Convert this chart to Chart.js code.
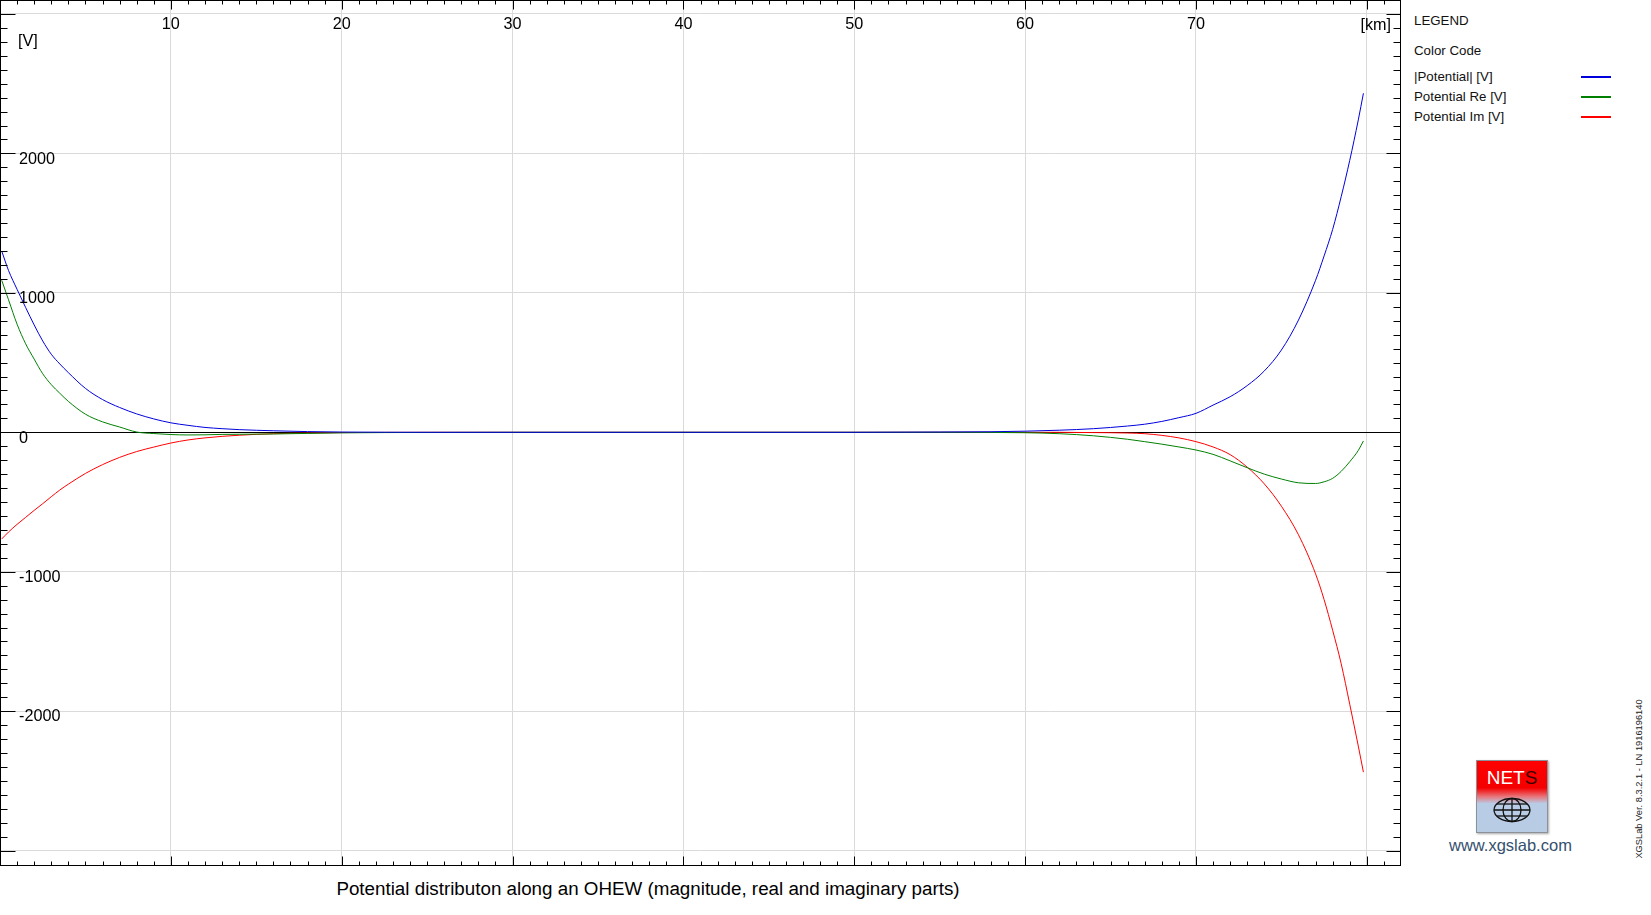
<!DOCTYPE html>
<html><head><meta charset="utf-8">
<script src="https://cdn.jsdelivr.net/npm/chart.js@4.4.1/dist/chart.umd.min.js"></script>
<style>
html,body{margin:0;padding:0;background:#fff;width:1651px;height:915px;overflow:hidden;font-family:"Liberation Sans",Arial,sans-serif;}
#wrap{position:absolute;left:0;top:0;width:1402px;height:867px;}
.t{position:absolute;white-space:nowrap;color:#000;}
#title{left:0;width:1296px;text-align:center;top:879px;font-size:18.8px;line-height:20px;}
.lg{left:1414px;font-size:13.3px;line-height:16px;color:#111;}
.sw{position:absolute;left:1581px;width:30px;height:2px;}
#logo{position:absolute;left:1476px;top:760px;width:70px;height:71px;border:1px solid #8c9098;box-shadow:1px 1px 2px rgba(0,0,0,0.35);
 background:linear-gradient(to bottom,#ff0000 0%,#f40000 38%,#e8757a 50%,#b9cce6 60%,#b8cce4 100%);}
#nets{position:absolute;left:0;top:7px;width:70px;text-align:center;color:#fff;font-size:19px;line-height:20px;}
#nets span{color:#3a0000;}
#globe{position:absolute;left:14px;top:36px;}
#url{left:1449px;top:835px;font-size:16.5px;line-height:20px;color:#34506e;}
#ver{left:1539px;top:773px;width:200px;height:12px;line-height:12px;text-align:center;font-size:9.3px;color:#222;transform:rotate(-90deg);transform-origin:center center;}
</style></head><body>
<div id="wrap"><canvas id="c"></canvas></div>
<div class="t" id="title">Potential distributon along an OHEW (magnitude, real and imaginary parts)</div>
<div class="t lg" style="top:13px">LEGEND</div>
<div class="t lg" style="top:43px">Color Code</div>
<div class="t lg" style="top:69px">|Potential| [V]</div>
<div class="t lg" style="top:89px">Potential Re [V]</div>
<div class="t lg" style="top:109px">Potential Im [V]</div>
<div class="sw" style="top:76px;background:#0000dd"></div>
<div class="sw" style="top:96px;background:#008000"></div>
<div class="sw" style="top:116px;background:#ff0000"></div>
<div id="logo"><div id="nets">NET<span>S</span></div>
<svg id="globe" width="42" height="26" viewBox="0 0 42 26"><g fill="none" stroke="#111" stroke-width="1.3">
<ellipse cx="21" cy="13" rx="18" ry="11.5"/><ellipse cx="21" cy="13" rx="9" ry="11.5"/>
<line x1="21" y1="1.5" x2="21" y2="24.5"/><line x1="3" y1="13" x2="39" y2="13"/>
<line x1="6" y1="7" x2="36" y2="7"/><line x1="6" y1="19" x2="36" y2="19"/></g></svg></div>
<div class="t" id="url">www.xgslab.com</div>
<div class="t" id="ver">XGSLab Ver. 8.3.2.1 - LN 1916196140</div>
<script>
const km = [0.1, 0.5, 1, 1.5, 2, 2.5, 3, 3.5, 4, 5, 6, 7, 8, 9, 10, 11, 12, 13, 14, 16, 18, 20, 25, 30, 40, 50, 55, 58, 60, 62, 64, 66, 67, 68, 69, 70, 71, 72, 73, 74, 75, 76, 77, 77.5, 78, 78.5, 79, 79.5, 79.8];
const potentialMag = [1300, 1160, 1025, 895, 770, 655, 560, 490, 428, 315, 235, 178, 132, 96, 68, 50, 35, 26, 19, 11, 5, 2, 0, 0, 0, 0, 2, 4, 8, 15, 26, 45, 58, 78, 105, 136, 195, 255, 335, 440, 590, 805, 1090, 1265, 1455, 1690, 1950, 2240, 2431];
const potentialRe = [1090, 950, 775, 635, 525, 420, 342, 280, 222, 130, 75, 38, 2, -9, -16, -19, -18, -15, -14, -12, -8, -4, -1, 0, 0, 0, 0, -1, -3, -10, -25, -50, -67, -85, -105, -127, -158, -205, -254, -300, -335, -362, -367, -355, -330, -280, -211, -130, -62];
const potentialIm = [-765, -715, -660, -610, -560, -512, -462, -414, -372, -295, -232, -180, -138, -106, -77, -55, -40, -29, -21, -10, -5, -2, 0, 0, 0, 0, 0, 0, 0, 0, -2, -5, -10, -22, -40, -67, -105, -160, -250, -370, -530, -735, -1015, -1200, -1420, -1660, -1950, -2250, -2437];
const seriesNames = ['|Potential| [V]', 'Potential Re [V]', 'Potential Im [V]'];
const xGridValues = [0, 10, 20, 30, 40, 50, 60, 70, 80];
const yGridValues = [-3000, -2000, -1000, 0, 1000, 2000, 3000];
const xTickLabels = [10, 20, 30, 40, 50, 60, 70];
const yTickLabels = [2000, 1000, 0, -1000, -2000];
const xUnit = '[km]';
const yUnit = '[V]';

const pts = arr => arr.map((v, i) => ({x: km[i], y: v}));
const FONT = '16.2px "Liberation Sans", Arial, sans-serif';

const framePlugin = {
  id: 'frame',
  afterDraw(chart) {
    const ctx = chart.ctx, xs = chart.scales.x, ys = chart.scales.y;
    const L = 0.5, T = 0.5, R = 1400.5, B = 865.5;
    ctx.save();
    ctx.strokeStyle = '#000'; ctx.lineWidth = 1;
    ctx.beginPath();
    for (let k = 1; k <= 82; k++) {
      const px = Math.round(xs.getPixelForValue(k)) + 0.5;
      if (px >= R) continue;
      const len = k % 10 === 0 ? 9 : 4;
      ctx.moveTo(px, T); ctx.lineTo(px, T + len);
      ctx.moveTo(px, B); ctx.lineTo(px, B - len);
    }
    for (let v = -3100; v <= 3100; v += 100) {
      const py = Math.round(ys.getPixelForValue(v)) + 0.5;
      if (py <= T || py >= B) continue;
      const major = v % 1000 === 0;
      ctx.moveTo(L, py); ctx.lineTo(L + (major ? 15 : 7), py);
      ctx.moveTo(R, py); ctx.lineTo(R - (major ? 14 : 7), py);
    }
    ctx.stroke();
    ctx.strokeRect(L, T, R - L, B - T);
    ctx.fillStyle = '#000';
    ctx.font = FONT;
    ctx.textBaseline = 'alphabetic';
    ctx.textAlign = 'center';
    xTickLabels.forEach(v => ctx.fillText(String(v), xs.getPixelForValue(v), 29.3));
    ctx.textAlign = 'left';
    yTickLabels.forEach(v => ctx.fillText(String(v), 19, ys.getPixelForValue(v) + 10.2));
    ctx.fillText(yUnit, 18, 46);
    ctx.textAlign = 'right';
    ctx.fillText(xUnit, 1391, 30);
    ctx.restore();
  }
};

new Chart(document.getElementById('c'), {
  type: 'line',
  data: {
    datasets: [
      {label: seriesNames[0], data: pts(potentialMag), borderColor: '#0000dd'},
      {label: seriesNames[1], data: pts(potentialRe), borderColor: '#008000'},
      {label: seriesNames[2], data: pts(potentialIm), borderColor: '#ff0000'}
    ].map(d => Object.assign(d, {borderWidth: 1, pointRadius: 0, fill: false, cubicInterpolationMode: 'monotone'}))
  },
  options: {
    responsive: true, maintainAspectRatio: false, animation: false,
    layout: {padding: {left: 0, top: 0, right: 1, bottom: 1}},
    plugins: {legend: {display: false}, tooltip: {enabled: false}},
    scales: {
      x: {type: 'linear', min: 0, max: 82,
          ticks: {display: false},
          grid: {color: '#dadada', lineWidth: 1, drawTicks: false},
          border: {display: false},
          afterBuildTicks: s => { s.ticks = xGridValues.map(v => ({value: v})); },
          afterFit: s => { s.height = 0; s.paddingLeft = 0; s.paddingRight = 0; }},
      y: {type: 'linear', min: -3110, max: 3100,
          ticks: {display: false},
          grid: {color: c => (c.tick && c.tick.value === 0) ? '#000' : '#dadada', lineWidth: 1, drawTicks: false},
          border: {display: false},
          afterBuildTicks: s => { s.ticks = yGridValues.map(v => ({value: v})); },
          afterFit: s => { s.width = 0; s.paddingTop = 0; s.paddingBottom = 0; }}
    }
  },
  plugins: [framePlugin]
});
</script>
</body></html>
